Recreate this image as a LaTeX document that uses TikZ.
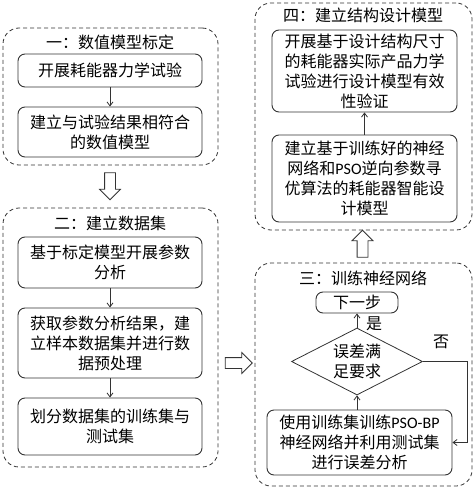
\documentclass[tikz,border=0pt]{standalone}
\usepackage{fontspec}
\setmainfont{Noto Sans CJK SC}
\newfontfamily\latinfont{Carlito}
\usepackage{xcolor}
\usetikzlibrary{positioning,arrows.meta,shapes.geometric,shapes.arrows}
\definecolor{lineGray}{HTML}{333333}

\begin{document}
\begin{tikzpicture}[x=1pt, y=-1pt, font=\fontsize{16}{20}\selectfont,
  group/.style={draw=lineGray, line width=0.8pt, dash pattern=on 4pt off 3pt, rounded corners=16pt, inner sep=0pt},
  stepbox/.style={draw=lineGray, line width=0.9pt, rounded corners=7pt, align=center, inner sep=0pt, minimum width=184pt},
  hollow/.style={draw=lineGray, line width=0.8pt, single arrow, single arrow head extend=5pt, single arrow head indent=0pt, inner sep=5pt, minimum height=27pt},
  arr/.style={draw=lineGray, line width=0.8pt, -{Straight Barb[length=4pt,width=6pt]}}]
\useasboundingbox (0,0) rectangle (474,487);
% stage one
\node[group, minimum width=215pt, minimum height=137pt] (G1) at (110.5,96.5) {};
\node (T1) at (110,42) {一：数值模型标定};
\node[stepbox, minimum height=33pt] (S11) at (110,70.5) {开展耗能器力学试验};
\node[stepbox, minimum height=50pt] (S12) at (110,132) {建立与试验结果相符合\\的数值模型};
\draw[arr] (S11) -- (S12);
\node[hollow, shape border rotate=270] (H1) at (110,183.5) {};
% stage two
\node[group, minimum width=215pt, minimum height=259pt] (G2) at (110.5,337.5) {};
\node (T2) at (110,223) {二：建立数据集};
\node[stepbox, minimum height=51pt] (S21) at (110,262.5) {基于标定模型开展参数\\分析};
\node[stepbox, minimum height=70pt] (S22) at (110,343) {获取参数分析结果，建\\立样本数据集并进行数\\据预处理};
\node[stepbox, minimum height=57pt] (S23) at (110,426.5) {划分数据集的训练集与\\测试集};
\draw[arr] (S21) -- (S22);
\draw[arr] (S22) -- (S23);
\node[hollow] (H2) at (236,363) {};
% stage three
\node[group, minimum width=217pt, minimum height=223pt] (G3) at (363.5,374.5) {};
\node (T3) at (363,278) {三：训练神经网络};
\node[stepbox, minimum width=82pt, minimum height=21pt] (NEXT) at (357,302.5) {下一步};
\node[draw=lineGray, line width=0.8pt, diamond, aspect=2, inner sep=0pt, minimum width=131pt, minimum height=67pt, align=center] (CHK) at (357,361.5) {误差满\\足要求};
\node[stepbox, minimum width=185pt, minimum height=65pt] (S31) at (359.5,442.5) {使用训练集训练{\latinfont PSO-BP}\\神经网络并利用测试集\\进行误差分析};
\draw[arr] (S31.north -| CHK.south) -- (CHK.south);
\draw[arr] (CHK) -- (NEXT);
\draw[arr] (CHK.east) -- ++(44,0) |- (S31.east);
\node (YES) at (374,324) {是};
\node (NO) at (441,342) {否};
\node[hollow, shape border rotate=90] (H3) at (362.5,246.5) {};
% stage four
\node[group, minimum width=217pt, minimum height=227pt] (G4) at (363.5,116.5) {};
\node (T4) at (363,15) {四：建立结构设计模型};
\node[stepbox, minimum width=185pt, minimum height=82pt] (S41) at (364.5,71) {开展基于设计结构尺寸\\的耗能器实际产品力学\\试验进行设计模型有效\\性验证};
\node[stepbox, minimum width=185pt, minimum height=87pt] (S42) at (364.5,178.5) {建立基于训练好的神经\\网络和{\latinfont PSO}逆向参数寻\\优算法的耗能器智能设\\计模型};
\draw[arr] (S42) -- (S41);
\end{tikzpicture}
\end{document}
